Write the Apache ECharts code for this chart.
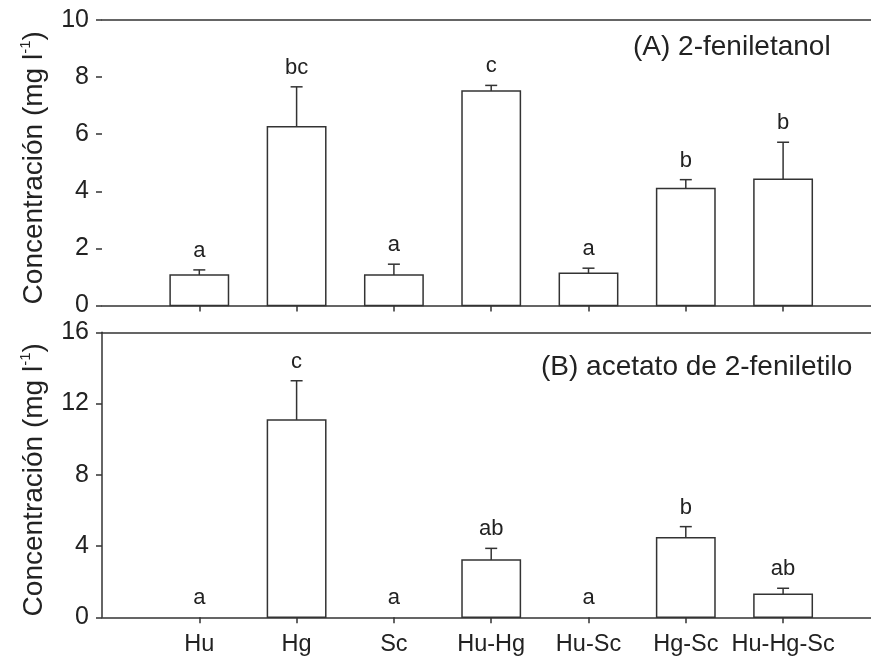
<!DOCTYPE html>
<html>
<head>
<meta charset="utf-8">
<script src="https://cdn.jsdelivr.net/npm/echarts@6/dist/echarts.min.js"></script>
<style>html,body{margin:0;padding:0;background:#fff;}#c{width:871px;height:660px;}</style>
</head>
<body>
<div id="c"></div>
<script>
// ---- data ----
const categories = ['Hu', 'Hg', 'Sc', 'Hu-Hg', 'Hu-Sc', 'Hg-Sc', 'Hu-Hg-Sc'];
const feniletanolMean = [1.07, 6.26, 1.07, 7.51, 1.13, 4.10, 4.42];
const feniletanolErr  = [0.18, 1.40, 0.38, 0.20, 0.18, 0.31, 1.30];
const feniletanolLetters = ['a', 'bc', 'a', 'c', 'a', 'b', 'b'];
const acetatoMean = [0, 11.08, 0, 3.22, 0, 4.47, 1.29];
const acetatoErr  = [0, 2.20, 0, 0.65, 0, 0.62, 0.34];
const acetatoLetters = ['a', 'c', 'a', 'ab', 'a', 'b', 'ab'];
const yTicksA = [0, 2, 4, 6, 8, 10];
const yTicksB = [0, 4, 8, 12, 16];
const titleA = '(A) 2-feniletanol';
const titleB = '(B) acetato de 2-feniletilo';

// ---- chart ----
const FONT = '"Liberation Sans", Arial, sans-serif';
const LINE = '#333';
const TEXT = '#222';
const catPos = categories.map((_, i) => i + 1);

function makeData(means, errs) {
  return means.map((m, i) => [i + 1, m, errs[i]]);
}

function makeRender(letters) {
  return function (params, api) {
    const x = api.value(0), v = api.value(1), e = api.value(2);
    const base = api.coord([x, 0]);
    const top = api.coord([x, v]);
    const w = api.size([0.6, 0])[0];
    const children = [];
    if (v > 0) {
      children.push({
        type: 'rect',
        shape: { x: base[0] - w / 2, y: top[1], width: w, height: base[1] - top[1] },
        style: { fill: '#fff', stroke: LINE, lineWidth: 1.5 }
      });
    }
    let ly = top[1];
    if (e > 0) {
      const cap = api.coord([x, v + e]);
      children.push({ type: 'line', shape: { x1: base[0], y1: top[1], x2: base[0], y2: cap[1] }, style: { stroke: LINE, lineWidth: 1.5 } });
      children.push({ type: 'line', shape: { x1: base[0] - 6, y1: cap[1], x2: base[0] + 6, y2: cap[1] }, style: { stroke: LINE, lineWidth: 1.5 } });
      ly = cap[1];
    }
    children.push({
      type: 'text',
      style: { text: letters[params.dataIndex], x: base[0], y: ly - 8, align: 'center', verticalAlign: 'bottom', fill: TEXT, font: '22px ' + FONT }
    });
    return { type: 'group', children };
  };
}

const yName = '{n|Concentración (mg l}{s|-1}{n|)}';
const yNameStyle = {
  padding: [0, 10, 0, 0],
  rich: {
    n: { fontSize: 28, fontFamily: FONT, color: TEXT, lineHeight: 32 },
    s: { fontSize: 15, fontFamily: FONT, color: TEXT, lineHeight: 15, verticalAlign: 'top' }
  }
};

function xBottom(gridIndex, labels) {
  return {
    gridIndex, type: 'value', min: 0, max: 8, interval: 1, position: 'bottom',
    axisLine: { show: true, onZero: false, lineStyle: { color: LINE, width: 1.5 } },
    axisTick: { show: true, length: 6, customValues: catPos, lineStyle: { color: LINE, width: 1.5 } },
    axisLabel: labels ? {
      show: true, customValues: catPos, margin: 15, fontSize: 23.5, fontFamily: FONT, color: TEXT,
      formatter: v => categories[Math.round(v) - 1] || ''
    } : { show: false },
    splitLine: { show: false }
  };
}
function xTop(gridIndex) {
  return {
    gridIndex, type: 'value', min: 0, max: 8, position: 'top',
    axisLine: { show: true, onZero: false, lineStyle: { color: LINE, width: 1.5 } },
    axisTick: { show: false }, axisLabel: { show: false }, splitLine: { show: false }
  };
}
function yAxis(gridIndex, ticks, showLine) {
  return {
    gridIndex, type: 'value', min: ticks[0], max: ticks[ticks.length - 1], interval: ticks[1] - ticks[0],
    name: yName, nameLocation: 'middle', nameGap: 52, nameRotate: 90, nameTextStyle: yNameStyle,
    axisLine: { show: showLine, lineStyle: { color: LINE, width: 1.5 } },
    axisTick: { show: true, length: 6, lineStyle: { color: LINE, width: 1.5 } },
    axisLabel: { margin: 13, fontSize: 25, fontFamily: FONT, color: TEXT },
    splitLine: { show: false }
  };
}

const chart = echarts.init(document.getElementById('c'), null, { renderer: 'canvas' });
chart.setOption({
  animation: false,
  backgroundColor: '#fff',
  title: [
    { text: titleA, left: 633, top: 33, padding: 0, textStyle: { fontSize: 28, fontWeight: 'normal', fontFamily: FONT, color: TEXT } },
    { text: titleB, left: 541, top: 353, padding: 0, textStyle: { fontSize: 28, fontWeight: 'normal', fontFamily: FONT, color: TEXT } }
  ],
  grid: [
    { left: 102, right: -9.4, top: 20, height: 285.6, outerBoundsMode: 'none' },
    { left: 102, right: -9.4, top: 332.3, height: 285, outerBoundsMode: 'none' }
  ],
  xAxis: [xBottom(0, false), xTop(0), xBottom(1, true), xTop(1)],
  yAxis: [yAxis(0, yTicksA, false), yAxis(1, yTicksB, true)],
  series: [
    { type: 'custom', xAxisIndex: 0, yAxisIndex: 0, data: makeData(feniletanolMean, feniletanolErr), renderItem: makeRender(feniletanolLetters), clip: false },
    { type: 'custom', xAxisIndex: 2, yAxisIndex: 1, data: makeData(acetatoMean, acetatoErr), renderItem: makeRender(acetatoLetters), clip: false }
  ]
});
</script>
</body>
</html>
